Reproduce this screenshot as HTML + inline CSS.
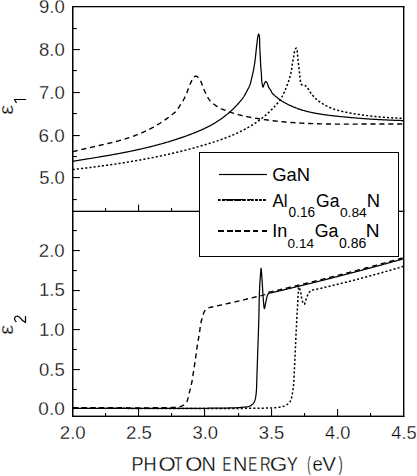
<!DOCTYPE html>
<html><head><meta charset="utf-8"><style>
html,body{margin:0;padding:0;background:#fff;}
svg{display:block;}
text{font-family:"Liberation Sans",sans-serif;fill:#000;font-kerning:none;}
text.t{stroke:#fff;stroke-width:0.3px;}
</style></head><body>
<svg width="417" height="476" viewBox="0 0 417 476">
<rect x="0" y="0" width="417" height="476" fill="#fff"/>
<path d="M72.70,161.31 L73.46,161.19 L74.22,161.07 L74.98,160.95 L75.74,160.83 L76.50,160.70 L77.26,160.58 L78.02,160.46 L78.78,160.34 L79.54,160.22 L80.30,160.09 L81.06,159.97 L81.82,159.85 L82.58,159.73 L83.34,159.60 L84.10,159.48 L84.86,159.36 L85.62,159.24 L86.38,159.11 L87.15,158.99 L87.91,158.87 L88.67,158.75 L89.43,158.62 L90.19,158.50 L90.95,158.37 L91.71,158.25 L92.47,158.13 L93.23,158.00 L93.99,157.88 L94.75,157.75 L95.51,157.63 L96.27,157.50 L97.03,157.37 L97.79,157.25 L98.55,157.12 L99.31,156.99 L100.07,156.87 L100.83,156.74 L101.59,156.61 L102.35,156.48 L103.11,156.35 L103.87,156.22 L104.63,156.09 L105.39,155.96 L106.15,155.83 L106.91,155.69 L107.67,155.56 L108.43,155.43 L109.19,155.29 L109.95,155.16 L110.71,155.03 L111.47,154.89 L112.23,154.75 L112.99,154.62 L113.75,154.48 L114.51,154.34 L115.28,154.20 L116.04,154.06 L116.80,153.92 L117.56,153.78 L118.32,153.64 L119.08,153.49 L119.84,153.35 L120.60,153.21 L121.36,153.06 L122.12,152.91 L122.88,152.77 L123.64,152.62 L124.40,152.47 L125.16,152.32 L125.92,152.17 L126.68,152.02 L127.44,151.86 L128.20,151.71 L128.96,151.56 L129.72,151.40 L130.48,151.24 L131.24,151.09 L132.00,150.93 L132.76,150.77 L133.52,150.61 L134.28,150.45 L135.04,150.28 L135.80,150.12 L136.56,149.95 L137.32,149.79 L138.08,149.62 L138.84,149.45 L139.60,149.28 L140.36,149.11 L141.12,148.94 L141.88,148.76 L142.64,148.59 L143.41,148.41 L144.17,148.24 L144.93,148.06 L145.69,147.88 L146.45,147.70 L147.21,147.51 L147.97,147.33 L148.73,147.14 L149.49,146.96 L150.25,146.77 L151.01,146.58 L151.77,146.39 L152.53,146.20 L153.29,146.00 L154.05,145.81 L154.81,145.61 L155.57,145.41 L156.33,145.21 L157.09,145.01 L157.85,144.81 L158.61,144.60 L159.37,144.39 L160.13,144.19 L160.89,143.98 L161.65,143.77 L162.41,143.55 L163.17,143.34 L163.93,143.12 L164.69,142.91 L165.45,142.69 L166.21,142.46 L166.97,142.24 L167.73,142.02 L168.49,141.79 L169.25,141.56 L170.01,141.33 L170.77,141.10 L171.54,140.87 L172.30,140.63 L173.06,140.39 L173.82,140.15 L174.58,139.91 L175.34,139.67 L176.10,139.42 L176.86,139.18 L177.62,138.93 L178.38,138.68 L179.14,138.42 L179.90,138.17 L180.66,137.91 L181.42,137.65 L182.18,137.39 L182.94,137.12 L183.70,136.86 L184.46,136.59 L185.22,136.32 L185.98,136.04 L186.74,135.77 L187.50,135.49 L188.26,135.21 L189.02,134.92 L189.78,134.64 L190.54,134.35 L191.30,134.06 L192.06,133.77 L192.82,133.47 L193.58,133.17 L194.34,132.87 L195.10,132.56 L195.86,132.26 L196.62,131.95 L197.38,131.63 L198.15,131.32 L198.91,131.00 L199.67,130.67 L200.42,130.35 L201.19,130.01 L201.95,129.68 L202.71,129.33 L203.47,128.99 L204.23,128.63 L204.99,128.27 L205.75,127.91 L206.51,127.54 L207.27,127.16 L208.03,126.78 L208.79,126.38 L209.55,125.99 L210.31,125.58 L211.07,125.17 L211.83,124.74 L212.59,124.32 L213.35,123.88 L214.11,123.43 L214.87,122.98 L215.63,122.52 L216.39,122.04 L217.16,121.56 L217.91,121.07 L218.67,120.57 L219.44,120.06 L220.20,119.54 L220.96,119.01 L221.71,118.48 L222.48,117.92 L223.24,117.36 L224.00,116.79 L224.75,116.21 L225.52,115.61 L226.28,115.01 L227.04,114.39 L227.79,113.77 L228.41,113.25 L229.02,112.73 L229.63,112.20 L230.23,111.67 L230.84,111.13 L231.45,110.57 L232.06,110.01 L232.67,109.44 L233.27,108.86 L233.88,108.27 L234.49,107.66 L235.10,107.04 L235.71,106.42 L236.32,105.78 L236.92,105.13 L237.53,104.46 L238.14,103.78 L238.75,103.09 L239.36,102.38 L239.96,101.67 L240.59,100.91 L241.22,100.14 L241.85,99.36 L242.45,98.58 L243.00,97.82 L243.54,97.02 L244.03,96.25 L244.50,95.45 L245.00,94.60 L245.42,93.86 L245.86,93.09 L246.30,92.28 L246.74,91.46 L247.18,90.63 L247.60,89.80 L248.02,88.96 L248.45,88.11 L248.87,87.26 L249.27,86.40 L249.65,85.51 L250.00,84.60 L250.29,83.74 L250.55,82.86 L250.79,81.97 L251.02,81.06 L251.24,80.12 L251.47,79.17 L251.70,78.20 L251.92,77.30 L252.14,76.39 L252.36,75.45 L252.57,74.50 L252.79,73.53 L253.00,72.55 L253.21,71.57 L253.41,70.59 L253.60,69.60 L253.77,68.67 L253.94,67.75 L254.09,66.83 L254.25,65.90 L254.39,64.96 L254.54,64.01 L254.68,63.05 L254.82,62.06 L254.96,61.05 L255.10,60.00 L255.22,59.11 L255.33,58.17 L255.44,57.20 L255.55,56.20 L255.66,55.19 L255.77,54.15 L255.88,53.12 L255.99,52.08 L256.09,51.05 L256.20,50.03 L256.30,49.03 L256.40,48.07 L256.50,47.13 L256.60,46.24 L256.70,45.40 L256.83,44.31 L256.95,43.26 L257.07,42.25 L257.19,41.27 L257.31,40.34 L257.43,39.45 L257.56,38.60 L257.70,37.80 L257.91,36.61 L258.13,35.41 L258.36,34.48 L258.60,34.10 L258.88,34.44 L259.16,35.28 L259.40,36.30 L259.50,36.95 L259.57,37.70 L259.61,38.53 L259.63,39.43 L259.64,40.39 L259.65,41.38 L259.65,42.39 L259.65,43.41 L259.67,44.42 L259.70,45.40 L259.74,46.32 L259.78,47.26 L259.83,48.22 L259.88,49.19 L259.93,50.18 L259.99,51.17 L260.04,52.16 L260.09,53.15 L260.15,54.13 L260.20,55.10 L260.25,56.06 L260.30,57.00 L260.35,57.94 L260.39,58.89 L260.43,59.83 L260.48,60.77 L260.52,61.70 L260.56,62.62 L260.60,63.53 L260.65,64.42 L260.70,65.30 L260.75,66.16 L260.80,67.00 L260.87,67.94 L260.95,68.84 L261.03,69.73 L261.11,70.59 L261.19,71.44 L261.27,72.29 L261.34,73.14 L261.40,74.00 L261.45,74.97 L261.49,75.94 L261.52,76.92 L261.54,77.88 L261.58,78.82 L261.63,79.73 L261.70,80.60 L261.81,81.54 L261.94,82.46 L262.09,83.33 L262.24,84.15 L262.40,84.90 L262.58,85.85 L262.77,86.71 L263.00,87.10 L263.27,86.73 L263.58,85.83 L263.93,84.74 L264.30,83.80 L264.81,82.78 L265.36,81.83 L265.90,81.40 L266.39,81.72 L266.87,82.47 L267.30,83.30 L267.61,84.07 L267.86,84.93 L268.11,85.80 L268.40,86.60 L268.81,87.39 L269.26,88.12 L269.70,88.80 L270.25,89.59 L270.80,90.40 L271.13,91.03 L271.45,91.73 L271.80,92.44 L272.20,93.10 L272.69,93.69 L273.23,94.24 L273.81,94.77 L274.40,95.30 L275.05,95.86 L275.73,96.42 L276.42,96.97 L277.10,97.50 L277.72,97.99 L278.34,98.46 L278.96,98.93 L279.60,99.40 L280.30,99.91 L281.02,100.42 L281.76,100.93 L282.50,101.41 L283.25,101.87 L284.00,102.30 L284.76,102.72 L285.53,103.14 L286.28,103.54 L287.04,103.94 L287.80,104.32 L288.56,104.70 L289.31,105.07 L290.07,105.42 L290.82,105.77 L291.58,106.11 L292.34,106.44 L293.09,106.77 L293.85,107.08 L294.61,107.39 L295.36,107.69 L296.12,107.98 L296.88,108.26 L297.64,108.54 L298.39,108.81 L299.15,109.07 L299.91,109.32 L300.67,109.57 L301.42,109.81 L302.18,110.05 L302.93,110.28 L303.69,110.50 L304.45,110.71 L305.20,110.93 L305.96,111.13 L306.72,111.33 L307.48,111.52 L308.23,111.71 L308.99,111.89 L309.75,112.07 L310.50,112.24 L311.26,112.41 L312.02,112.58 L312.77,112.73 L313.53,112.89 L314.29,113.04 L315.05,113.18 L315.80,113.33 L316.56,113.46 L317.32,113.60 L318.07,113.73 L318.83,113.85 L319.59,113.98 L320.34,114.10 L321.10,114.22 L321.86,114.33 L322.61,114.44 L323.37,114.55 L324.13,114.66 L324.88,114.76 L325.64,114.86 L326.40,114.96 L327.16,115.06 L327.91,115.15 L328.67,115.25 L329.43,115.34 L330.18,115.43 L330.94,115.52 L331.70,115.61 L332.45,115.70 L333.21,115.78 L333.97,115.87 L334.72,115.95 L335.48,116.03 L336.24,116.12 L337.00,116.20 L337.75,116.28 L338.51,116.36 L339.27,116.44 L340.02,116.52 L340.78,116.60 L341.54,116.68 L342.29,116.75 L343.05,116.83 L343.81,116.90 L344.56,116.98 L345.32,117.05 L346.08,117.13 L346.83,117.20 L347.59,117.27 L348.35,117.34 L349.11,117.41 L349.86,117.48 L350.62,117.55 L351.38,117.61 L352.13,117.68 L352.89,117.75 L353.65,117.81 L354.40,117.88 L355.16,117.94 L355.92,118.00 L356.67,118.07 L357.43,118.13 L358.19,118.19 L358.94,118.25 L359.70,118.31 L360.46,118.37 L361.22,118.43 L361.97,118.48 L362.73,118.54 L363.49,118.60 L364.24,118.65 L365.00,118.71 L365.76,118.76 L366.51,118.81 L367.27,118.86 L368.03,118.92 L368.78,118.97 L369.54,119.02 L370.30,119.07 L371.05,119.12 L371.81,119.16 L372.57,119.21 L373.33,119.26 L374.08,119.30 L374.84,119.35 L375.60,119.39 L376.35,119.44 L377.11,119.48 L377.87,119.52 L378.62,119.56 L379.38,119.61 L380.14,119.65 L380.89,119.69 L381.65,119.73 L382.41,119.76 L383.16,119.80 L383.92,119.84 L384.68,119.88 L385.44,119.91 L386.19,119.95 L386.95,119.98 L387.71,120.02 L388.46,120.05 L389.22,120.08 L389.98,120.11 L390.73,120.14 L391.49,120.17 L392.25,120.20 L393.00,120.23 L393.76,120.26 L394.52,120.29 L395.27,120.32 L396.03,120.34 L396.79,120.37 L397.54,120.40 L398.30,120.42 L399.06,120.45 L399.82,120.47 L400.57,120.49 L401.33,120.51 L402.09,120.54 L402.84,120.56 L403.60,120.58" stroke="#000" stroke-width="1.25" fill="none" stroke-linejoin="round"/>
<path d="M72.70,169.57 L73.45,169.49 L74.21,169.40 L74.96,169.31 L75.71,169.23 L76.46,169.14 L77.22,169.05 L77.97,168.97 L78.72,168.88 L79.48,168.79 L80.23,168.70 L80.98,168.61 L81.73,168.52 L82.49,168.43 L83.24,168.34 L83.99,168.25 L84.75,168.16 L85.50,168.07 L86.25,167.98 L87.01,167.89 L87.76,167.79 L88.51,167.70 L89.26,167.61 L90.02,167.51 L90.77,167.42 L91.52,167.32 L92.28,167.23 L93.03,167.13 L93.78,167.03 L94.53,166.94 L95.29,166.84 L96.04,166.74 L96.79,166.64 L97.55,166.54 L98.30,166.44 L99.05,166.34 L99.80,166.24 L100.56,166.14 L101.31,166.04 L102.06,165.94 L102.82,165.84 L103.57,165.73 L104.32,165.63 L105.07,165.53 L105.83,165.42 L106.58,165.32 L107.33,165.21 L108.09,165.10 L108.84,165.00 L109.59,164.89 L110.35,164.78 L111.10,164.67 L111.85,164.56 L112.60,164.45 L113.36,164.34 L114.11,164.23 L114.86,164.12 L115.62,164.01 L116.37,163.89 L117.12,163.78 L117.87,163.67 L118.63,163.55 L119.38,163.43 L120.13,163.32 L120.89,163.20 L121.64,163.08 L122.39,162.97 L123.14,162.85 L123.90,162.73 L124.65,162.61 L125.40,162.49 L126.16,162.36 L126.91,162.24 L127.66,162.12 L128.41,161.99 L129.17,161.87 L129.92,161.74 L130.67,161.62 L131.43,161.49 L132.18,161.36 L132.93,161.24 L133.68,161.11 L134.44,160.98 L135.19,160.85 L135.94,160.72 L136.70,160.58 L137.45,160.45 L138.20,160.32 L138.96,160.18 L139.71,160.05 L140.46,159.91 L141.21,159.77 L141.97,159.64 L142.72,159.50 L143.47,159.36 L144.23,159.22 L144.98,159.08 L145.73,158.94 L146.48,158.79 L147.24,158.65 L147.99,158.51 L148.74,158.36 L149.50,158.22 L150.25,158.07 L151.00,157.92 L151.75,157.77 L152.51,157.62 L153.26,157.47 L154.01,157.32 L154.77,157.17 L155.52,157.02 L156.27,156.86 L157.02,156.71 L157.78,156.55 L158.53,156.40 L159.28,156.24 L160.04,156.08 L160.79,155.92 L161.54,155.76 L162.30,155.60 L163.05,155.44 L163.80,155.28 L164.55,155.11 L165.31,154.95 L166.06,154.78 L166.81,154.61 L167.57,154.45 L168.32,154.28 L169.07,154.11 L169.82,153.94 L170.58,153.76 L171.33,153.59 L172.08,153.42 L172.84,153.24 L173.59,153.07 L174.34,152.89 L175.09,152.71 L175.85,152.53 L176.60,152.35 L177.35,152.17 L178.11,151.99 L178.86,151.81 L179.61,151.62 L180.36,151.44 L181.12,151.25 L181.87,151.06 L182.62,150.87 L183.38,150.68 L184.13,150.49 L184.88,150.30 L185.64,150.11 L186.39,149.91 L187.14,149.72 L187.89,149.52 L188.65,149.32 L189.40,149.13 L190.15,148.93 L190.91,148.73 L191.66,148.52 L192.41,148.32 L193.16,148.12 L193.92,147.91 L194.67,147.70 L195.42,147.50 L196.18,147.29 L196.93,147.08 L197.68,146.87 L198.43,146.65 L199.19,146.44 L199.94,146.22 L200.69,146.01 L201.45,145.79 L202.20,145.57 L202.95,145.35 L203.70,145.13 L204.46,144.91 L205.21,144.69 L205.96,144.46 L206.72,144.24 L207.47,144.01 L208.22,143.78 L208.97,143.55 L209.73,143.32 L210.48,143.09 L211.23,142.85 L211.99,142.61 L212.74,142.38 L213.49,142.13 L214.24,141.89 L215.00,141.65 L215.75,141.40 L216.50,141.15 L217.26,140.90 L218.01,140.65 L218.76,140.39 L219.52,140.13 L220.27,139.87 L221.02,139.60 L221.77,139.33 L222.53,139.06 L223.28,138.79 L224.03,138.51 L224.79,138.23 L225.54,137.95 L226.29,137.66 L227.05,137.37 L227.80,137.08 L228.55,136.78 L229.30,136.48 L230.06,136.17 L230.81,135.86 L231.56,135.55 L232.31,135.23 L233.07,134.91 L233.82,134.58 L234.57,134.25 L235.33,133.92 L236.08,133.58 L236.83,133.23 L237.59,132.89 L238.34,132.53 L239.09,132.17 L239.85,131.81 L240.60,131.44 L241.35,131.07 L242.10,130.69 L242.86,130.30 L243.61,129.91 L244.36,129.52 L245.12,129.12 L245.87,128.71 L246.62,128.30 L247.37,127.88 L248.13,127.46 L248.88,127.03 L249.63,126.59 L250.38,126.15 L251.14,125.69 L251.89,125.24 L252.65,124.77 L253.40,124.30 L254.15,123.81 L254.91,123.32 L255.66,122.82 L256.41,122.32 L257.16,121.80 L257.92,121.27 L258.67,120.73 L259.42,120.18 L260.18,119.62 L260.93,119.05 L261.68,118.47 L262.43,117.89 L263.19,117.28 L263.94,116.66 L264.69,116.04 L265.44,115.40 L266.05,114.88 L266.65,114.34 L267.26,113.81 L267.86,113.26 L268.45,112.71 L269.06,112.14 L269.67,111.57 L270.27,110.99 L270.87,110.40 L271.47,109.80 L272.07,109.19 L272.68,108.56 L273.28,107.93 L273.88,107.30 L274.48,106.65 L275.08,105.98 L275.69,105.31 L276.29,104.63 L276.89,103.94 L277.49,103.24 L278.11,102.53 L278.73,101.82 L279.34,101.10 L279.94,100.35 L280.50,99.56 L280.96,98.83 L281.40,98.06 L281.82,97.27 L282.23,96.47 L282.62,95.67 L283.00,94.90 L283.41,94.07 L283.80,93.25 L284.18,92.43 L284.54,91.62 L284.90,90.80 L285.24,89.98 L285.56,89.16 L285.87,88.34 L286.18,87.52 L286.50,86.70 L286.82,85.88 L287.15,85.06 L287.48,84.24 L287.80,83.42 L288.10,82.60 L288.38,81.78 L288.64,80.96 L288.90,80.13 L289.15,79.31 L289.40,78.50 L289.71,77.54 L290.03,76.60 L290.33,75.66 L290.60,74.70 L290.79,73.91 L290.96,73.12 L291.12,72.32 L291.26,71.52 L291.40,70.70 L291.53,69.83 L291.66,68.94 L291.77,68.05 L291.88,67.16 L292.00,66.30 L292.14,65.33 L292.29,64.39 L292.44,63.45 L292.60,62.50 L292.75,61.71 L292.91,60.92 L293.08,60.12 L293.25,59.32 L293.40,58.50 L293.55,57.61 L293.69,56.69 L293.82,55.77 L293.96,54.87 L294.10,54.00 L294.26,53.07 L294.42,52.15 L294.60,51.28 L294.80,50.50 L295.03,49.77 L295.29,49.11 L295.60,48.60 L296.01,48.22 L296.40,48.10 L296.76,48.83 L297.00,50.00 L297.16,50.84 L297.29,51.74 L297.40,52.70 L297.47,53.46 L297.53,54.28 L297.58,55.12 L297.64,55.97 L297.70,56.80 L297.77,57.62 L297.85,58.44 L297.93,59.26 L298.01,60.08 L298.10,60.90 L298.19,61.72 L298.29,62.54 L298.40,63.36 L298.50,64.18 L298.60,65.00 L298.70,65.82 L298.80,66.65 L298.91,67.47 L299.01,68.29 L299.10,69.10 L299.20,70.05 L299.30,70.99 L299.40,71.94 L299.50,72.90 L299.60,73.75 L299.70,74.61 L299.80,75.49 L299.90,76.35 L300.00,77.20 L300.10,78.18 L300.18,79.16 L300.28,80.11 L300.40,81.00 L300.56,81.94 L300.74,82.83 L301.00,83.60 L301.38,84.36 L301.90,84.90 L302.66,85.00 L303.50,85.00 L304.31,85.18 L305.10,85.50 L305.69,85.91 L306.26,86.43 L306.80,87.00 L307.31,87.61 L307.79,88.26 L308.30,89.00 L308.77,89.72 L309.26,90.54 L309.77,91.40 L310.29,92.24 L310.80,93.00 L311.34,93.72 L311.87,94.38 L312.42,95.03 L313.00,95.70 L313.56,96.34 L314.15,97.00 L314.76,97.67 L315.38,98.31 L316.00,98.91 L316.74,99.55 L317.49,100.15 L318.26,100.72 L319.02,101.28 L319.77,101.82 L320.52,102.34 L321.28,102.85 L322.04,103.35 L322.79,103.82 L323.54,104.28 L324.30,104.72 L325.06,105.15 L325.81,105.55 L326.57,105.95 L327.32,106.33 L328.08,106.70 L328.83,107.05 L329.59,107.39 L330.34,107.71 L331.10,108.03 L331.86,108.33 L332.61,108.62 L333.37,108.90 L334.12,109.17 L334.88,109.43 L335.63,109.67 L336.39,109.91 L337.14,110.14 L337.90,110.36 L338.65,110.57 L339.41,110.78 L340.17,110.97 L340.92,111.16 L341.67,111.34 L342.43,111.52 L343.19,111.69 L343.94,111.85 L344.70,112.01 L345.45,112.17 L346.21,112.32 L346.96,112.46 L347.72,112.61 L348.47,112.75 L349.23,112.88 L349.98,113.02 L350.74,113.15 L351.49,113.28 L352.25,113.41 L353.00,113.54 L353.76,113.67 L354.51,113.79 L355.27,113.91 L356.02,114.03 L356.78,114.15 L357.53,114.27 L358.29,114.38 L359.04,114.50 L359.80,114.61 L360.55,114.72 L361.31,114.83 L362.07,114.93 L362.82,115.04 L363.58,115.14 L364.33,115.24 L365.09,115.34 L365.84,115.44 L366.60,115.54 L367.35,115.63 L368.11,115.72 L368.86,115.82 L369.62,115.91 L370.37,115.99 L371.13,116.08 L371.88,116.17 L372.64,116.25 L373.39,116.33 L374.15,116.41 L374.90,116.49 L375.66,116.57 L376.41,116.64 L377.17,116.71 L377.92,116.79 L378.68,116.86 L379.43,116.93 L380.19,116.99 L380.94,117.06 L381.70,117.12 L382.46,117.19 L383.21,117.25 L383.97,117.31 L384.72,117.37 L385.48,117.42 L386.23,117.48 L386.99,117.53 L387.74,117.59 L388.50,117.64 L389.25,117.69 L390.01,117.73 L390.76,117.78 L391.52,117.83 L392.27,117.87 L393.03,117.91 L393.78,117.95 L394.54,117.99 L395.29,118.03 L396.05,118.07 L396.80,118.10 L397.56,118.14 L398.31,118.17 L399.07,118.20 L399.82,118.23 L400.58,118.26 L401.33,118.28 L402.09,118.31 L402.84,118.33 L403.60,118.36" stroke="#000" stroke-width="1.5" fill="none" stroke-linejoin="round" stroke-dasharray="2.1 2.1"/>
<path d="M72.70,151.80 L73.46,151.59 L74.22,151.39 L74.99,151.18 L75.75,150.98 L76.51,150.78 L77.27,150.58 L78.04,150.39 L78.80,150.19 L79.56,150.00 L80.32,149.81 L81.09,149.63 L81.85,149.44 L82.61,149.26 L83.37,149.07 L84.14,148.89 L84.90,148.71 L85.66,148.54 L86.42,148.36 L87.19,148.18 L87.95,148.01 L88.71,147.83 L89.47,147.66 L90.24,147.49 L91.00,147.32 L91.76,147.15 L92.52,146.98 L93.29,146.81 L94.05,146.64 L94.81,146.47 L95.57,146.30 L96.34,146.13 L97.10,145.96 L97.86,145.79 L98.63,145.62 L99.39,145.45 L100.15,145.28 L100.91,145.11 L101.68,144.94 L102.44,144.77 L103.20,144.60 L103.96,144.42 L104.73,144.25 L105.49,144.07 L106.25,143.90 L107.01,143.72 L107.78,143.54 L108.54,143.36 L109.30,143.18 L110.06,143.00 L110.83,142.81 L111.59,142.62 L112.35,142.44 L113.11,142.25 L113.88,142.05 L114.64,141.86 L115.40,141.66 L116.16,141.46 L116.93,141.26 L117.69,141.06 L118.45,140.85 L119.21,140.64 L119.98,140.43 L120.74,140.22 L121.50,140.00 L122.26,139.78 L123.03,139.56 L123.79,139.33 L124.55,139.10 L125.31,138.87 L126.08,138.63 L126.84,138.39 L127.60,138.15 L128.36,137.90 L129.13,137.65 L129.89,137.39 L130.65,137.14 L131.41,136.87 L132.18,136.60 L132.94,136.33 L133.70,136.06 L134.46,135.78 L135.23,135.49 L135.99,135.20 L136.75,134.91 L137.51,134.61 L138.28,134.31 L139.04,134.00 L139.80,133.69 L140.56,133.37 L141.33,133.04 L142.09,132.72 L142.85,132.38 L143.61,132.04 L144.38,131.70 L145.14,131.35 L145.90,130.99 L146.66,130.63 L147.43,130.26 L148.19,129.88 L148.95,129.50 L149.71,129.11 L150.48,128.72 L151.24,128.32 L152.00,127.92 L152.76,127.50 L153.53,127.08 L154.29,126.66 L155.05,126.23 L155.81,125.79 L156.58,125.34 L157.34,124.89 L158.10,124.43 L158.86,123.96 L159.63,123.48 L160.39,123.00 L161.15,122.51 L161.92,122.01 L162.68,121.50 L163.44,120.99 L164.20,120.47 L164.97,119.94 L165.73,119.40 L166.49,118.86 L167.25,118.31 L168.02,117.74 L168.78,117.17 L169.54,116.59 L170.30,116.01 L171.07,115.41 L171.83,114.80 L172.59,114.19 L173.35,113.57 L174.12,112.96 L174.90,112.36 L175.67,111.72 L176.40,110.98 L176.95,110.29 L177.48,109.52 L177.98,108.70 L178.49,107.85 L178.99,107.01 L179.50,106.20 L180.01,105.44 L180.53,104.71 L181.05,103.98 L181.57,103.24 L182.09,102.45 L182.60,101.60 L183.03,100.83 L183.46,100.02 L183.90,99.17 L184.34,98.30 L184.77,97.40 L185.19,96.50 L185.61,95.59 L186.01,94.69 L186.40,93.80 L186.76,92.94 L187.11,92.06 L187.45,91.18 L187.77,90.30 L188.09,89.42 L188.41,88.55 L188.73,87.69 L189.06,86.84 L189.40,86.00 L189.77,85.12 L190.14,84.22 L190.52,83.32 L190.90,82.44 L191.28,81.59 L191.66,80.79 L192.04,80.05 L192.40,79.40 L193.00,78.44 L193.59,77.64 L194.20,77.00 L194.93,76.40 L195.70,76.10 L196.59,76.27 L197.50,76.80 L198.05,77.28 L198.61,77.89 L199.17,78.61 L199.70,79.39 L200.20,80.20 L200.59,80.93 L200.95,81.70 L201.28,82.52 L201.60,83.37 L201.92,84.24 L202.25,85.12 L202.60,86.00 L202.95,86.86 L203.30,87.75 L203.65,88.65 L204.01,89.57 L204.38,90.48 L204.77,91.40 L205.17,92.31 L205.60,93.20 L206.01,94.02 L206.42,94.85 L206.84,95.69 L207.28,96.52 L207.74,97.34 L208.21,98.15 L208.71,98.93 L209.24,99.68 L209.80,100.40 L210.46,101.15 L211.17,101.87 L211.91,102.56 L212.68,103.22 L213.46,103.85 L214.25,104.46 L215.03,105.04 L215.80,105.60 L216.58,106.15 L217.38,106.67 L218.19,107.17 L218.99,107.64 L219.77,108.07 L220.51,108.46 L221.20,108.80 L222.19,109.21 L223.09,109.51 L224.00,109.83 L224.75,110.13 L225.51,110.43 L226.28,110.74 L227.04,111.04 L227.80,111.33 L228.56,111.61 L229.33,111.88 L230.09,112.14 L230.85,112.40 L231.61,112.66 L232.37,112.90 L233.13,113.14 L233.89,113.38 L234.65,113.61 L235.41,113.83 L236.18,114.05 L236.94,114.26 L237.70,114.47 L238.46,114.67 L239.22,114.87 L239.98,115.07 L240.74,115.26 L241.50,115.44 L242.26,115.62 L243.02,115.80 L243.79,115.97 L244.55,116.14 L245.31,116.30 L246.07,116.46 L246.83,116.62 L247.59,116.78 L248.35,116.93 L249.11,117.08 L249.87,117.22 L250.64,117.37 L251.40,117.51 L252.16,117.65 L252.92,117.78 L253.68,117.92 L254.44,118.05 L255.20,118.18 L255.96,118.31 L256.72,118.43 L257.48,118.56 L258.25,118.68 L259.01,118.80 L259.77,118.92 L260.53,119.04 L261.29,119.15 L262.05,119.27 L262.81,119.38 L263.57,119.49 L264.33,119.60 L265.09,119.71 L265.86,119.81 L266.62,119.92 L267.38,120.02 L268.14,120.12 L268.90,120.22 L269.66,120.32 L270.42,120.41 L271.18,120.51 L271.94,120.60 L272.71,120.69 L273.47,120.78 L274.23,120.87 L274.99,120.95 L275.75,121.04 L276.51,121.12 L277.27,121.20 L278.03,121.29 L278.79,121.36 L279.55,121.44 L280.32,121.52 L281.08,121.59 L281.84,121.67 L282.60,121.74 L283.36,121.81 L284.12,121.88 L284.88,121.95 L285.64,122.01 L286.40,122.08 L287.16,122.14 L287.93,122.21 L288.69,122.27 L289.45,122.33 L290.21,122.39 L290.97,122.45 L291.73,122.50 L292.49,122.56 L293.25,122.61 L294.01,122.66 L294.77,122.72 L295.54,122.77 L296.30,122.82 L297.06,122.86 L297.82,122.91 L298.58,122.96 L299.34,123.00 L300.10,123.05 L300.86,123.09 L301.62,123.13 L302.38,123.17 L303.15,123.21 L303.91,123.25 L304.67,123.28 L305.43,123.32 L306.19,123.36 L306.95,123.39 L307.71,123.42 L308.47,123.46 L309.23,123.49 L309.99,123.52 L310.76,123.55 L311.52,123.58 L312.28,123.60 L313.04,123.63 L313.80,123.66 L314.56,123.68 L315.32,123.71 L316.08,123.73 L316.84,123.75 L317.61,123.77 L318.37,123.79 L319.13,123.81 L319.89,123.83 L320.65,123.85 L321.41,123.87 L322.17,123.89 L322.93,123.90 L323.69,123.92 L324.45,123.93 L325.22,123.95 L325.98,123.96 L326.74,123.97 L327.50,123.99 L328.26,124.00 L329.02,124.01 L329.78,124.02 L330.54,124.03 L331.30,124.04 L332.06,124.05 L332.83,124.05 L333.59,124.06 L334.35,124.07 L335.11,124.08 L335.87,124.08 L336.63,124.09 L337.39,124.09 L338.15,124.10 L338.91,124.10 L339.67,124.10 L340.44,124.11 L341.20,124.11 L341.96,124.11 L342.72,124.11 L343.48,124.11 L344.24,124.11 L345.00,124.11 L345.76,124.11 L346.52,124.11 L347.28,124.11 L348.05,124.11 L348.81,124.11 L349.57,124.11 L350.33,124.11 L351.09,124.11 L351.85,124.10 L352.61,124.10 L353.37,124.10 L354.13,124.10 L354.89,124.09 L355.66,124.09 L356.42,124.09 L357.18,124.08 L357.94,124.08 L358.70,124.07 L359.46,124.07 L360.22,124.06 L360.98,124.06 L361.74,124.06 L362.51,124.05 L363.27,124.05 L364.03,124.04 L364.79,124.04 L365.55,124.03 L366.31,124.03 L367.07,124.02 L367.83,124.02 L368.59,124.01 L369.35,124.01 L370.12,124.00 L370.88,124.00 L371.64,123.99 L372.40,123.99 L373.16,123.98 L373.92,123.98 L374.68,123.97 L375.44,123.97 L376.20,123.97 L376.96,123.96 L377.73,123.96 L378.49,123.95 L379.25,123.95 L380.01,123.95 L380.77,123.94 L381.53,123.94 L382.29,123.94 L383.05,123.94 L383.81,123.93 L384.57,123.93 L385.34,123.93 L386.10,123.93 L386.86,123.93 L387.62,123.93 L388.38,123.93 L389.14,123.93 L389.90,123.93 L390.66,123.93 L391.42,123.93 L392.18,123.93 L392.95,123.93 L393.71,123.94 L394.47,123.94 L395.23,123.94 L395.99,123.95 L396.75,123.95 L397.51,123.96 L398.27,123.96 L399.03,123.97 L399.79,123.97 L400.56,123.98 L401.32,123.99 L402.08,124.00 L402.84,124.00 L403.60,124.01" stroke="#000" stroke-width="1.4" fill="none" stroke-linejoin="round" stroke-dasharray="5.1 3.8"/>
<path d="M72.70,408.30 L73.70,408.30 L74.70,408.30 L75.70,408.30 L76.72,408.30 L77.73,408.30 L78.75,408.30 L79.77,408.30 L80.80,408.30 L81.83,408.30 L82.87,408.30 L83.91,408.30 L84.95,408.30 L86.00,408.31 L87.05,408.31 L88.10,408.31 L89.16,408.31 L90.21,408.31 L91.28,408.31 L92.34,408.31 L93.41,408.31 L94.48,408.31 L95.55,408.32 L96.63,408.32 L97.70,408.32 L98.78,408.32 L99.86,408.32 L100.95,408.32 L102.03,408.32 L103.12,408.32 L104.21,408.33 L105.30,408.33 L106.39,408.33 L107.48,408.33 L108.57,408.33 L109.67,408.33 L110.76,408.34 L111.86,408.34 L112.95,408.34 L114.05,408.34 L115.15,408.34 L116.25,408.34 L117.34,408.35 L118.44,408.35 L119.54,408.35 L120.64,408.35 L121.74,408.35 L122.83,408.35 L123.93,408.35 L125.02,408.36 L126.12,408.36 L127.21,408.36 L128.31,408.36 L129.40,408.36 L130.49,408.36 L131.58,408.37 L132.67,408.37 L133.76,408.37 L134.84,408.37 L135.93,408.37 L137.01,408.37 L138.09,408.37 L139.17,408.38 L140.24,408.38 L141.32,408.38 L142.39,408.38 L143.45,408.38 L144.52,408.38 L145.58,408.38 L146.64,408.38 L147.70,408.38 L148.75,408.39 L149.81,408.39 L150.85,408.39 L151.90,408.39 L152.94,408.39 L153.97,408.39 L155.01,408.39 L156.04,408.39 L157.06,408.39 L158.08,408.39 L159.10,408.39 L160.11,408.39 L161.12,408.39 L162.12,408.39 L163.12,408.39 L164.11,408.39 L165.10,408.39 L166.09,408.39 L167.06,408.39 L168.04,408.39 L169.01,408.39 L169.97,408.39 L170.93,408.39 L171.88,408.39 L172.82,408.39 L173.76,408.39 L174.69,408.39 L175.62,408.39 L176.54,408.38 L177.46,408.38 L178.36,408.38 L179.27,408.38 L180.16,408.38 L181.05,408.38 L181.93,408.38 L182.80,408.37 L183.67,408.37 L184.53,408.37 L185.38,408.37 L186.22,408.36 L187.06,408.36 L187.89,408.36 L188.71,408.36 L189.52,408.35 L190.33,408.35 L191.12,408.35 L191.91,408.34 L192.69,408.34 L193.46,408.34 L194.23,408.33 L194.98,408.33 L195.72,408.33 L196.46,408.32 L197.19,408.32 L197.90,408.31 L198.61,408.31 L199.31,408.30 L200.00,408.30 L201.27,408.29 L202.52,408.28 L203.77,408.27 L204.99,408.26 L206.20,408.26 L207.40,408.25 L208.58,408.24 L209.75,408.23 L210.90,408.22 L212.04,408.21 L213.16,408.20 L214.26,408.19 L215.35,408.18 L216.41,408.17 L217.47,408.16 L218.50,408.15 L219.51,408.14 L220.51,408.12 L221.49,408.11 L222.45,408.10 L223.39,408.08 L224.31,408.07 L225.21,408.06 L226.09,408.04 L226.95,408.02 L227.79,408.01 L228.61,407.99 L229.41,407.97 L230.19,407.95 L230.94,407.94 L231.68,407.91 L232.39,407.89 L233.07,407.87 L233.74,407.85 L234.38,407.82 L235.00,407.80 L236.17,407.75 L237.20,407.69 L238.13,407.64 L238.99,407.58 L239.80,407.52 L240.58,407.45 L241.38,407.38 L242.20,407.30 L243.22,407.21 L244.24,407.13 L245.24,407.04 L246.21,406.93 L247.13,406.79 L248.00,406.60 L248.97,406.34 L249.87,406.04 L250.71,405.67 L251.50,405.20 L252.25,404.60 L252.94,403.91 L253.56,403.13 L254.10,402.30 L254.48,401.52 L254.80,400.69 L255.06,399.81 L255.29,398.91 L255.50,398.00 L255.67,397.20 L255.80,396.38 L255.92,395.55 L256.02,394.71 L256.11,393.86 L256.20,393.00 L256.29,392.07 L256.37,391.12 L256.44,390.17 L256.50,389.20 L256.55,388.21 L256.60,387.20 L256.64,386.36 L256.67,385.52 L256.69,384.67 L256.71,383.81 L256.73,382.93 L256.75,382.00 L256.77,381.03 L256.80,380.00 L256.82,379.21 L256.85,378.39 L256.88,377.52 L256.91,376.63 L256.94,375.71 L256.97,374.77 L257.00,373.81 L257.03,372.84 L257.07,371.86 L257.10,370.86 L257.14,369.87 L257.17,368.88 L257.20,367.89 L257.24,366.91 L257.27,365.95 L257.30,365.00 L257.33,364.06 L257.36,363.12 L257.39,362.19 L257.42,361.25 L257.46,360.31 L257.49,359.38 L257.52,358.44 L257.55,357.50 L257.58,356.56 L257.61,355.62 L257.64,354.69 L257.67,353.75 L257.71,352.81 L257.74,351.88 L257.77,350.94 L257.80,350.00 L257.83,349.07 L257.86,348.14 L257.89,347.21 L257.92,346.29 L257.96,345.37 L257.99,344.45 L258.02,343.53 L258.05,342.61 L258.08,341.69 L258.11,340.75 L258.14,339.82 L258.17,338.87 L258.20,337.92 L258.24,336.96 L258.27,335.99 L258.30,335.00 L258.33,334.10 L258.36,333.19 L258.39,332.28 L258.42,331.35 L258.45,330.42 L258.48,329.48 L258.52,328.53 L258.55,327.58 L258.58,326.63 L258.61,325.67 L258.64,324.71 L258.67,323.74 L258.70,322.77 L258.73,321.80 L258.76,320.83 L258.79,319.86 L258.82,318.90 L258.85,317.93 L258.87,316.96 L258.90,316.00 L258.92,315.01 L258.95,314.02 L258.97,313.01 L258.99,312.00 L259.00,310.99 L259.02,309.97 L259.04,308.95 L259.05,307.93 L259.07,306.91 L259.09,305.89 L259.10,304.88 L259.12,303.87 L259.14,302.87 L259.15,301.87 L259.17,300.88 L259.20,299.90 L259.22,298.93 L259.24,297.97 L259.27,297.03 L259.30,296.10 L259.34,295.04 L259.37,294.00 L259.41,292.96 L259.46,291.92 L259.50,290.90 L259.54,289.89 L259.59,288.89 L259.64,287.90 L259.68,286.92 L259.73,285.95 L259.78,284.99 L259.84,284.05 L259.89,283.12 L259.94,282.20 L260.00,281.30 L260.07,280.28 L260.14,279.24 L260.21,278.21 L260.29,277.19 L260.37,276.18 L260.45,275.20 L260.52,274.27 L260.60,273.38 L260.67,272.55 L260.74,271.78 L260.80,271.10 L260.90,269.81 L261.00,268.71 L261.10,268.25 L261.18,268.48 L261.26,269.11 L261.34,270.03 L261.43,271.12 L261.51,272.28 L261.60,273.40 L261.66,274.17 L261.72,275.00 L261.79,275.89 L261.85,276.81 L261.91,277.78 L261.98,278.77 L262.04,279.79 L262.11,280.83 L262.17,281.88 L262.24,282.93 L262.31,283.97 L262.37,285.00 L262.44,286.01 L262.50,287.00 L262.56,287.98 L262.62,288.97 L262.68,289.98 L262.74,290.99 L262.80,292.01 L262.86,293.02 L262.92,294.03 L262.98,295.02 L263.05,296.01 L263.11,296.98 L263.18,297.92 L263.25,298.85 L263.32,299.74 L263.40,300.60 L263.50,301.67 L263.59,302.83 L263.69,304.01 L263.79,305.17 L263.90,306.25 L264.01,307.19 L264.13,307.93 L264.26,308.42 L264.40,308.60 L264.58,308.35 L264.78,307.66 L264.99,306.64 L265.21,305.43 L265.44,304.14 L265.67,302.89 L265.90,301.80 L266.10,300.92 L266.30,299.99 L266.49,299.04 L266.70,298.10 L266.91,297.20 L267.12,296.36 L267.36,295.62 L267.60,295.00 L267.95,294.28 L268.33,293.72 L268.80,293.30 L269.45,293.06 L270.21,292.97 L271.00,292.87 L271.72,292.71 L272.48,292.53 L273.25,292.34 L274.01,292.16 L274.77,291.98 L275.52,291.81 L276.27,291.63 L277.03,291.45 L277.78,291.27 L278.53,291.09 L279.29,290.92 L280.04,290.74 L280.79,290.56 L281.55,290.38 L282.30,290.20 L283.05,290.02 L283.81,289.84 L284.56,289.66 L285.31,289.48 L286.07,289.30 L286.82,289.12 L287.58,288.94 L288.33,288.76 L289.08,288.58 L289.84,288.40 L290.59,288.22 L291.34,288.03 L292.10,287.85 L292.85,287.67 L293.60,287.49 L294.36,287.31 L295.11,287.12 L295.86,286.94 L296.62,286.76 L297.37,286.57 L298.12,286.39 L298.88,286.21 L299.63,286.02 L300.38,285.84 L301.14,285.66 L301.89,285.47 L302.64,285.29 L303.40,285.10 L304.15,284.92 L304.90,284.73 L305.66,284.55 L306.41,284.36 L307.16,284.18 L307.92,283.99 L308.67,283.80 L309.42,283.62 L310.18,283.43 L310.93,283.25 L311.68,283.06 L312.44,282.87 L313.19,282.68 L313.94,282.50 L314.70,282.31 L315.45,282.12 L316.20,281.93 L316.96,281.74 L317.71,281.56 L318.46,281.37 L319.22,281.18 L319.97,280.99 L320.73,280.80 L321.48,280.61 L322.23,280.42 L322.99,280.23 L323.74,280.04 L324.49,279.85 L325.25,279.66 L326.00,279.47 L326.75,279.28 L327.51,279.09 L328.26,278.90 L329.01,278.71 L329.77,278.52 L330.52,278.32 L331.27,278.13 L332.03,277.94 L332.78,277.75 L333.53,277.56 L334.29,277.36 L335.04,277.17 L335.79,276.98 L336.55,276.78 L337.30,276.59 L338.05,276.40 L338.81,276.20 L339.56,276.01 L340.31,275.81 L341.07,275.62 L341.82,275.42 L342.57,275.23 L343.33,275.03 L344.08,274.84 L344.83,274.64 L345.59,274.45 L346.34,274.25 L347.09,274.06 L347.85,273.86 L348.60,273.66 L349.35,273.47 L350.11,273.27 L350.86,273.07 L351.61,272.88 L352.37,272.68 L353.12,272.48 L353.88,272.28 L354.63,272.09 L355.38,271.89 L356.14,271.69 L356.89,271.49 L357.64,271.29 L358.40,271.09 L359.15,270.89 L359.90,270.69 L360.66,270.49 L361.41,270.29 L362.16,270.09 L362.92,269.89 L363.67,269.69 L364.42,269.49 L365.18,269.29 L365.93,269.09 L366.68,268.89 L367.44,268.69 L368.19,268.49 L368.94,268.29 L369.70,268.08 L370.45,267.88 L371.20,267.68 L371.96,267.48 L372.71,267.27 L373.46,267.07 L374.22,266.87 L374.97,266.67 L375.72,266.46 L376.48,266.26 L377.23,266.05 L377.98,265.85 L378.74,265.65 L379.49,265.44 L380.24,265.24 L381.00,265.03 L381.75,264.83 L382.50,264.62 L383.26,264.42 L384.01,264.21 L384.76,264.01 L385.52,263.80 L386.27,263.59 L387.03,263.39 L387.78,263.18 L388.53,262.97 L389.29,262.77 L390.04,262.56 L390.79,262.35 L391.55,262.14 L392.30,261.94 L393.05,261.73 L393.81,261.52 L394.56,261.31 L395.31,261.10 L396.07,260.89 L396.82,260.69 L397.57,260.48 L398.33,260.27 L399.08,260.06 L399.83,259.85 L400.59,259.64 L401.34,259.43 L402.09,259.22 L402.85,259.01 L403.60,258.80" stroke="#000" stroke-width="1.25" fill="none" stroke-linejoin="round"/>
<path d="M72.70,408.35 L73.70,408.35 L74.71,408.35 L75.72,408.35 L76.74,408.35 L77.76,408.35 L78.79,408.35 L79.83,408.35 L80.87,408.35 L81.92,408.35 L82.97,408.35 L84.03,408.35 L85.09,408.35 L86.16,408.35 L87.24,408.35 L88.32,408.35 L89.40,408.35 L90.49,408.35 L91.59,408.35 L92.68,408.35 L93.79,408.36 L94.90,408.36 L96.01,408.36 L97.12,408.36 L98.24,408.36 L99.37,408.36 L100.49,408.36 L101.63,408.36 L102.76,408.36 L103.90,408.36 L105.04,408.36 L106.19,408.36 L107.33,408.36 L108.48,408.36 L109.64,408.36 L110.80,408.36 L111.96,408.36 L113.12,408.37 L114.28,408.37 L115.45,408.37 L116.62,408.37 L117.79,408.37 L118.96,408.37 L120.14,408.37 L121.32,408.37 L122.49,408.37 L123.67,408.37 L124.86,408.37 L126.04,408.37 L127.22,408.38 L128.41,408.38 L129.60,408.38 L130.78,408.38 L131.97,408.38 L133.16,408.38 L134.35,408.38 L135.54,408.38 L136.73,408.38 L137.92,408.38 L139.11,408.38 L140.30,408.38 L141.50,408.39 L142.69,408.39 L143.88,408.39 L145.07,408.39 L146.26,408.39 L147.45,408.39 L148.63,408.39 L149.82,408.39 L151.01,408.39 L152.19,408.39 L153.38,408.39 L154.56,408.39 L155.74,408.40 L156.92,408.40 L158.10,408.40 L159.28,408.40 L160.45,408.40 L161.62,408.40 L162.79,408.40 L163.96,408.40 L165.13,408.40 L166.29,408.40 L167.45,408.40 L168.61,408.40 L169.77,408.40 L170.92,408.41 L172.07,408.41 L173.22,408.41 L174.36,408.41 L175.50,408.41 L176.64,408.41 L177.77,408.41 L178.90,408.41 L180.03,408.41 L181.15,408.41 L182.27,408.41 L183.39,408.41 L184.50,408.41 L185.60,408.41 L186.70,408.41 L187.80,408.41 L188.89,408.41 L189.98,408.41 L191.06,408.41 L192.14,408.42 L193.21,408.42 L194.28,408.42 L195.35,408.42 L196.40,408.42 L197.45,408.42 L198.50,408.42 L199.54,408.42 L200.57,408.42 L201.60,408.42 L202.63,408.42 L203.64,408.42 L204.65,408.42 L205.66,408.42 L206.65,408.42 L207.64,408.42 L208.63,408.42 L209.60,408.42 L210.57,408.42 L211.54,408.42 L212.49,408.42 L213.44,408.42 L214.38,408.42 L215.32,408.42 L216.24,408.42 L217.16,408.42 L218.07,408.42 L218.97,408.42 L219.87,408.41 L220.76,408.41 L221.63,408.41 L222.50,408.41 L223.36,408.41 L224.22,408.41 L225.06,408.41 L225.90,408.41 L226.72,408.41 L227.54,408.41 L228.35,408.41 L229.15,408.41 L229.94,408.41 L230.72,408.41 L231.49,408.40 L232.25,408.40 L233.00,408.40 L233.74,408.40 L234.47,408.40 L235.19,408.40 L235.90,408.40 L236.60,408.40 L237.29,408.39 L237.97,408.39 L238.64,408.39 L239.29,408.39 L239.94,408.39 L240.58,408.39 L241.20,408.39 L241.81,408.38 L242.41,408.38 L243.01,408.38 L243.58,408.38 L244.15,408.38 L244.71,408.37 L245.25,408.37 L245.78,408.37 L246.30,408.37 L246.81,408.37 L247.30,408.36 L247.78,408.36 L248.25,408.36 L248.71,408.36 L249.15,408.36 L249.58,408.35 L250.00,408.35 L251.39,408.34 L252.62,408.33 L253.74,408.32 L254.74,408.32 L255.65,408.31 L256.50,408.30 L257.29,408.29 L258.04,408.28 L258.79,408.27 L259.54,408.25 L260.31,408.24 L261.12,408.22 L262.00,408.20 L262.97,408.18 L263.96,408.16 L264.95,408.14 L265.94,408.11 L266.93,408.09 L267.91,408.06 L268.89,408.03 L269.85,408.00 L270.79,407.96 L271.72,407.91 L272.62,407.86 L273.50,407.80 L274.55,407.72 L275.58,407.64 L276.59,407.56 L277.57,407.46 L278.53,407.36 L279.45,407.23 L280.34,407.08 L281.20,406.90 L282.09,406.68 L282.93,406.45 L283.74,406.20 L284.52,405.91 L285.27,405.58 L286.00,405.20 L286.85,404.70 L287.68,404.14 L288.46,403.52 L289.18,402.84 L289.80,402.10 L290.24,401.40 L290.62,400.64 L290.93,399.84 L291.21,399.01 L291.46,398.15 L291.70,397.30 L291.93,396.37 L292.12,395.42 L292.28,394.44 L292.42,393.46 L292.56,392.47 L292.70,391.50 L292.85,390.55 L293.00,389.60 L293.14,388.65 L293.27,387.70 L293.39,386.75 L293.50,385.80 L293.59,384.87 L293.66,383.97 L293.72,383.07 L293.78,382.13 L293.84,381.12 L293.90,380.00 L293.94,379.21 L293.99,378.38 L294.03,377.49 L294.08,376.57 L294.13,375.61 L294.17,374.62 L294.22,373.60 L294.27,372.56 L294.31,371.51 L294.36,370.46 L294.41,369.39 L294.46,368.33 L294.50,367.27 L294.55,366.23 L294.60,365.20 L294.65,364.24 L294.69,363.26 L294.74,362.27 L294.79,361.28 L294.84,360.28 L294.88,359.27 L294.93,358.26 L294.98,357.25 L295.03,356.24 L295.08,355.24 L295.13,354.23 L295.17,353.23 L295.22,352.24 L295.27,351.26 L295.31,350.30 L295.36,349.34 L295.40,348.40 L295.45,347.40 L295.49,346.42 L295.53,345.45 L295.58,344.49 L295.62,343.55 L295.66,342.61 L295.70,341.67 L295.74,340.74 L295.78,339.80 L295.82,338.86 L295.86,337.92 L295.91,336.96 L295.95,335.99 L296.00,335.00 L296.05,334.04 L296.09,333.05 L296.14,332.03 L296.20,331.00 L296.25,329.96 L296.30,328.91 L296.35,327.86 L296.41,326.81 L296.46,325.77 L296.51,324.75 L296.56,323.74 L296.61,322.76 L296.66,321.81 L296.71,320.90 L296.76,320.03 L296.80,319.20 L296.86,318.14 L296.91,317.14 L296.96,316.20 L297.01,315.30 L297.05,314.42 L297.10,313.55 L297.15,312.68 L297.20,311.80 L297.26,310.85 L297.32,309.92 L297.38,309.00 L297.44,308.09 L297.49,307.17 L297.55,306.24 L297.60,305.30 L297.64,304.41 L297.68,303.51 L297.71,302.59 L297.75,301.67 L297.78,300.75 L297.82,299.85 L297.86,298.96 L297.90,298.10 L297.96,297.10 L298.03,296.12 L298.10,295.16 L298.17,294.22 L298.24,293.30 L298.30,292.40 L298.35,291.46 L298.39,290.50 L298.44,289.58 L298.50,288.77 L298.60,288.10 L298.78,287.36 L299.00,287.00 L299.24,287.30 L299.53,288.04 L299.83,288.99 L300.10,289.90 L300.34,290.74 L300.58,291.65 L300.80,292.59 L301.01,293.54 L301.20,294.50 L301.33,295.35 L301.44,296.23 L301.53,297.13 L301.62,298.00 L301.74,298.84 L301.90,299.60 L302.13,300.41 L302.38,301.16 L302.67,301.86 L303.00,302.50 L303.45,303.30 L303.95,304.02 L304.40,304.30 L304.72,303.92 L304.97,303.07 L305.22,302.01 L305.50,301.00 L305.77,300.22 L306.05,299.38 L306.34,298.52 L306.65,297.65 L306.97,296.81 L307.30,296.00 L307.67,295.13 L308.03,294.27 L308.42,293.44 L308.87,292.67 L309.40,292.00 L310.02,291.44 L310.73,290.96 L311.49,290.54 L312.26,290.19 L313.00,289.90 L313.76,289.69 L314.50,289.58 L315.25,289.51 L316.00,289.40 L316.76,289.24 L317.51,289.06 L318.27,288.88 L319.02,288.71 L319.78,288.53 L320.53,288.36 L321.29,288.18 L322.04,288.01 L322.80,287.83 L323.55,287.66 L324.31,287.48 L325.06,287.30 L325.82,287.13 L326.57,286.95 L327.33,286.77 L328.08,286.59 L328.84,286.41 L329.59,286.23 L330.35,286.05 L331.10,285.87 L331.86,285.69 L332.61,285.51 L333.37,285.33 L334.12,285.14 L334.88,284.96 L335.63,284.78 L336.39,284.59 L337.14,284.41 L337.90,284.22 L338.66,284.04 L339.41,283.85 L340.17,283.66 L340.92,283.48 L341.68,283.29 L342.43,283.10 L343.19,282.91 L343.94,282.72 L344.70,282.54 L345.45,282.35 L346.21,282.16 L346.96,281.96 L347.72,281.77 L348.47,281.58 L349.23,281.39 L349.98,281.20 L350.74,281.00 L351.49,280.81 L352.25,280.62 L353.00,280.42 L353.76,280.23 L354.51,280.03 L355.27,279.84 L356.02,279.64 L356.78,279.44 L357.53,279.24 L358.29,279.05 L359.04,278.85 L359.80,278.65 L360.56,278.45 L361.31,278.25 L362.07,278.05 L362.82,277.85 L363.58,277.65 L364.33,277.45 L365.09,277.24 L365.84,277.04 L366.60,276.84 L367.35,276.64 L368.11,276.43 L368.86,276.23 L369.62,276.02 L370.37,275.82 L371.13,275.61 L371.88,275.40 L372.64,275.20 L373.39,274.99 L374.15,274.78 L374.90,274.57 L375.66,274.36 L376.41,274.16 L377.17,273.95 L377.92,273.74 L378.68,273.53 L379.43,273.31 L380.19,273.10 L380.94,272.89 L381.70,272.68 L382.46,272.46 L383.21,272.25 L383.97,272.04 L384.72,271.82 L385.48,271.61 L386.23,271.39 L386.99,271.18 L387.74,270.96 L388.50,270.74 L389.25,270.53 L390.01,270.31 L390.76,270.09 L391.52,269.87 L392.27,269.65 L393.03,269.43 L393.78,269.21 L394.54,268.99 L395.29,268.77 L396.05,268.55 L396.80,268.33 L397.56,268.10 L398.31,267.88 L399.07,267.66 L399.82,267.43 L400.58,267.21 L401.33,266.98 L402.09,266.76 L402.84,266.53 L403.60,266.31" stroke="#000" stroke-width="1.5" fill="none" stroke-linejoin="round" stroke-dasharray="2.1 2.1"/>
<path d="M72.70,407.70 L73.70,407.70 L74.71,407.70 L75.73,407.70 L76.76,407.70 L77.80,407.70 L78.86,407.70 L79.92,407.70 L80.99,407.70 L82.07,407.70 L83.16,407.70 L84.25,407.70 L85.36,407.71 L86.47,407.71 L87.59,407.71 L88.71,407.71 L89.84,407.71 L90.98,407.72 L92.12,407.72 L93.27,407.72 L94.43,407.73 L95.58,407.73 L96.75,407.73 L97.91,407.74 L99.08,407.74 L100.25,407.74 L101.43,407.75 L102.61,407.75 L103.79,407.75 L104.97,407.76 L106.15,407.76 L107.34,407.76 L108.52,407.77 L109.71,407.77 L110.89,407.78 L112.07,407.78 L113.26,407.78 L114.44,407.79 L115.62,407.79 L116.80,407.79 L117.97,407.80 L119.15,407.80 L120.32,407.80 L121.49,407.81 L122.65,407.81 L123.81,407.81 L124.96,407.82 L126.11,407.82 L127.26,407.82 L128.40,407.83 L129.53,407.83 L130.66,407.83 L131.78,407.83 L132.89,407.83 L134.00,407.84 L135.10,407.84 L136.19,407.84 L137.27,407.84 L138.35,407.84 L139.41,407.84 L140.47,407.84 L141.51,407.84 L142.55,407.84 L143.57,407.84 L144.59,407.84 L145.59,407.84 L146.58,407.84 L147.56,407.84 L148.53,407.84 L149.48,407.84 L150.42,407.83 L151.35,407.83 L152.26,407.83 L153.16,407.82 L154.05,407.82 L154.92,407.82 L155.77,407.81 L156.61,407.81 L157.43,407.80 L158.24,407.80 L159.03,407.79 L159.80,407.78 L160.56,407.78 L161.30,407.77 L162.02,407.76 L162.72,407.75 L163.40,407.74 L164.07,407.74 L164.71,407.73 L165.34,407.72 L165.94,407.70 L166.52,407.69 L167.09,407.68 L167.63,407.67 L168.15,407.66 L168.64,407.64 L169.12,407.63 L169.57,407.62 L170.00,407.60 L171.42,407.55 L172.59,407.50 L173.57,407.45 L174.44,407.39 L175.24,407.32 L176.04,407.22 L176.90,407.10 L177.82,406.97 L178.73,406.83 L179.61,406.68 L180.47,406.49 L181.30,406.24 L182.10,405.90 L182.90,405.48 L183.68,405.01 L184.44,404.47 L185.15,403.86 L185.81,403.18 L186.40,402.40 L186.83,401.65 L187.20,400.82 L187.51,399.91 L187.79,398.94 L188.04,397.94 L188.27,396.90 L188.50,395.86 L188.74,394.82 L189.00,393.80 L189.25,392.90 L189.49,392.00 L189.74,391.10 L189.98,390.19 L190.23,389.27 L190.46,388.33 L190.70,387.39 L190.93,386.42 L191.16,385.44 L191.38,384.43 L191.60,383.40 L191.78,382.52 L191.95,381.60 L192.12,380.66 L192.29,379.70 L192.45,378.73 L192.61,377.73 L192.77,376.73 L192.92,375.73 L193.08,374.72 L193.23,373.71 L193.38,372.71 L193.53,371.71 L193.67,370.73 L193.82,369.77 L193.96,368.82 L194.10,367.90 L194.25,366.93 L194.40,365.97 L194.54,365.03 L194.68,364.10 L194.82,363.18 L194.96,362.26 L195.10,361.36 L195.23,360.45 L195.37,359.55 L195.50,358.64 L195.63,357.73 L195.77,356.82 L195.90,355.90 L196.03,354.97 L196.16,354.03 L196.29,353.09 L196.42,352.15 L196.55,351.21 L196.68,350.27 L196.81,349.32 L196.93,348.39 L197.06,347.46 L197.19,346.53 L197.33,345.61 L197.46,344.70 L197.60,343.80 L197.76,342.82 L197.92,341.86 L198.08,340.91 L198.25,339.96 L198.42,339.02 L198.59,338.09 L198.76,337.16 L198.93,336.22 L199.09,335.29 L199.25,334.35 L199.40,333.40 L199.54,332.43 L199.68,331.45 L199.81,330.45 L199.93,329.45 L200.05,328.45 L200.17,327.45 L200.30,326.47 L200.43,325.51 L200.57,324.57 L200.73,323.67 L200.90,322.80 L201.14,321.74 L201.40,320.72 L201.68,319.73 L201.97,318.78 L202.25,317.86 L202.53,316.96 L202.80,316.10 L203.07,315.16 L203.32,314.24 L203.57,313.38 L203.86,312.56 L204.20,311.80 L204.63,311.05 L205.11,310.36 L205.64,309.74 L206.20,309.20 L206.96,308.67 L207.77,308.25 L208.60,307.90 L209.38,307.63 L210.17,307.42 L211.00,307.21 L211.72,307.04 L212.48,306.88 L213.24,306.72 L214.00,306.56 L214.75,306.40 L215.50,306.23 L216.25,306.07 L217.00,305.91 L217.75,305.74 L218.50,305.57 L219.25,305.41 L220.00,305.24 L220.75,305.08 L221.50,304.91 L222.25,304.74 L223.00,304.57 L223.75,304.41 L224.50,304.24 L225.25,304.07 L226.00,303.90 L226.75,303.73 L227.50,303.56 L228.25,303.39 L229.00,303.22 L229.75,303.05 L230.50,302.88 L231.25,302.71 L232.00,302.53 L232.75,302.36 L233.50,302.19 L234.25,302.02 L235.00,301.84 L235.75,301.67 L236.50,301.49 L237.25,301.32 L238.00,301.15 L238.75,300.97 L239.50,300.79 L240.25,300.62 L241.00,300.44 L241.75,300.27 L242.50,300.09 L243.25,299.91 L244.00,299.73 L244.75,299.56 L245.50,299.38 L246.25,299.20 L247.00,299.02 L247.75,298.84 L248.50,298.66 L249.25,298.48 L250.00,298.30 L250.75,298.12 L251.50,297.94 L252.25,297.76 L253.00,297.58 L253.75,297.39 L254.50,297.21 L255.25,297.03 L256.00,296.85 L256.75,296.66 L257.50,296.48 L258.25,296.29 L259.00,296.11 L259.75,295.93 L260.49,295.76 L261.24,295.57 L262.00,295.37 L262.87,295.12 L263.75,294.86 L264.64,294.56 L265.50,294.20 L266.36,293.72 L267.20,293.15 L268.01,292.60 L268.80,292.20 L269.54,291.99 L270.25,291.89 L271.00,291.77 L271.72,291.61 L272.48,291.43 L273.25,291.24 L274.01,291.06 L274.77,290.88 L275.52,290.71 L276.27,290.53 L277.03,290.35 L277.78,290.17 L278.53,289.99 L279.29,289.82 L280.04,289.64 L280.79,289.46 L281.55,289.28 L282.30,289.10 L283.05,288.92 L283.81,288.74 L284.56,288.56 L285.31,288.38 L286.07,288.20 L286.82,288.02 L287.58,287.84 L288.33,287.66 L289.08,287.48 L289.84,287.30 L290.59,287.12 L291.34,286.93 L292.10,286.75 L292.85,286.57 L293.60,286.39 L294.36,286.21 L295.11,286.02 L295.86,285.84 L296.62,285.66 L297.37,285.47 L298.12,285.29 L298.88,285.11 L299.63,284.92 L300.38,284.74 L301.14,284.56 L301.89,284.37 L302.64,284.19 L303.40,284.00 L304.15,283.82 L304.90,283.63 L305.66,283.45 L306.41,283.26 L307.16,283.08 L307.92,282.89 L308.67,282.70 L309.42,282.52 L310.18,282.33 L310.93,282.15 L311.68,281.96 L312.44,281.77 L313.19,281.58 L313.94,281.40 L314.70,281.21 L315.45,281.02 L316.20,280.83 L316.96,280.64 L317.71,280.46 L318.46,280.27 L319.22,280.08 L319.97,279.89 L320.73,279.70 L321.48,279.51 L322.23,279.32 L322.99,279.13 L323.74,278.94 L324.49,278.75 L325.25,278.56 L326.00,278.37 L326.75,278.18 L327.51,277.99 L328.26,277.80 L329.01,277.61 L329.77,277.42 L330.52,277.22 L331.27,277.03 L332.03,276.84 L332.78,276.65 L333.53,276.46 L334.29,276.26 L335.04,276.07 L335.79,275.88 L336.55,275.68 L337.30,275.49 L338.05,275.30 L338.81,275.10 L339.56,274.91 L340.31,274.71 L341.07,274.52 L341.82,274.32 L342.57,274.13 L343.33,273.93 L344.08,273.74 L344.83,273.54 L345.59,273.35 L346.34,273.15 L347.09,272.96 L347.85,272.76 L348.60,272.56 L349.35,272.37 L350.11,272.17 L350.86,271.97 L351.61,271.78 L352.37,271.58 L353.12,271.38 L353.88,271.18 L354.63,270.99 L355.38,270.79 L356.14,270.59 L356.89,270.39 L357.64,270.19 L358.40,269.99 L359.15,269.79 L359.90,269.59 L360.66,269.39 L361.41,269.19 L362.16,268.99 L362.92,268.79 L363.67,268.59 L364.42,268.39 L365.18,268.19 L365.93,267.99 L366.68,267.79 L367.44,267.59 L368.19,267.39 L368.94,267.19 L369.70,266.98 L370.45,266.78 L371.20,266.58 L371.96,266.38 L372.71,266.17 L373.46,265.97 L374.22,265.77 L374.97,265.57 L375.72,265.36 L376.48,265.16 L377.23,264.95 L377.98,264.75 L378.74,264.55 L379.49,264.34 L380.24,264.14 L381.00,263.93 L381.75,263.73 L382.50,263.52 L383.26,263.32 L384.01,263.11 L384.76,262.91 L385.52,262.70 L386.27,262.49 L387.03,262.29 L387.78,262.08 L388.53,261.87 L389.29,261.67 L390.04,261.46 L390.79,261.25 L391.55,261.04 L392.30,260.84 L393.05,260.63 L393.81,260.42 L394.56,260.21 L395.31,260.00 L396.07,259.79 L396.82,259.59 L397.57,259.38 L398.33,259.17 L399.08,258.96 L399.83,258.75 L400.59,258.54 L401.34,258.33 L402.09,258.12 L402.85,257.91 L403.60,257.70" stroke="#000" stroke-width="1.4" fill="none" stroke-linejoin="round" stroke-dasharray="5.1 3.8"/>
<g fill="#000"><rect x="72.00" y="177.00" width="7.80" height="1.10"/><rect x="72.00" y="135.00" width="7.80" height="1.10"/><rect x="72.00" y="92.00" width="7.80" height="1.10"/><rect x="72.00" y="49.00" width="7.80" height="1.10"/><rect x="72.00" y="199.00" width="4.80" height="1.10"/><rect x="72.00" y="156.00" width="4.80" height="1.10"/><rect x="72.00" y="113.00" width="4.80" height="1.10"/><rect x="72.00" y="70.00" width="4.80" height="1.10"/><rect x="72.00" y="28.00" width="4.80" height="1.10"/><rect x="72.00" y="369.00" width="7.80" height="1.10"/><rect x="72.00" y="329.00" width="7.80" height="1.10"/><rect x="72.00" y="290.00" width="7.80" height="1.10"/><rect x="72.00" y="250.00" width="7.80" height="1.10"/><rect x="72.00" y="389.00" width="4.80" height="1.10"/><rect x="72.00" y="349.00" width="4.80" height="1.10"/><rect x="72.00" y="309.00" width="4.80" height="1.10"/><rect x="72.00" y="270.00" width="4.80" height="1.10"/><rect x="72.00" y="230.00" width="4.80" height="1.10"/><rect x="138.00" y="204.60" width="1.10" height="6.60"/><rect x="138.00" y="409.00" width="1.10" height="7.00"/><rect x="204.00" y="204.60" width="1.10" height="6.60"/><rect x="204.00" y="409.00" width="1.10" height="7.00"/><rect x="271.00" y="204.60" width="1.10" height="6.60"/><rect x="271.00" y="409.00" width="1.10" height="7.00"/><rect x="337.00" y="204.60" width="1.10" height="6.60"/><rect x="337.00" y="409.00" width="1.10" height="7.00"/><rect x="105.00" y="207.90" width="1.10" height="3.30"/><rect x="105.00" y="413.00" width="1.10" height="3.00"/><rect x="171.00" y="207.90" width="1.10" height="3.30"/><rect x="171.00" y="413.00" width="1.10" height="3.00"/><rect x="238.00" y="207.90" width="1.10" height="3.30"/><rect x="238.00" y="413.00" width="1.10" height="3.00"/><rect x="304.00" y="207.90" width="1.10" height="3.30"/><rect x="304.00" y="413.00" width="1.10" height="3.00"/><rect x="370.00" y="207.90" width="1.10" height="3.30"/><rect x="370.00" y="413.00" width="1.10" height="3.00"/><rect x="72.00" y="6.00" width="332.40" height="1.30"/><rect x="72.00" y="210.70" width="332.40" height="1.30"/><rect x="72.00" y="415.60" width="332.40" height="1.40"/><rect x="72.00" y="6.00" width="1.50" height="411.00"/><rect x="403.00" y="6.00" width="1.40" height="411.00"/></g>
<rect x="199.5" y="152.5" width="199" height="104" fill="#fff" stroke="#000" stroke-width="1"/>
<g fill="#000"><rect x="219" y="173.9" width="48.00" height="1.2"/><rect x="218" y="199" width="2.60" height="2"/><rect x="222" y="199" width="23.80" height="1"/><rect x="247.2" y="199" width="6.50" height="1"/><rect x="222" y="200" width="3.30" height="1"/><rect x="226.3" y="200" width="6.90" height="1"/><rect x="234.2" y="200" width="6.90" height="1"/><rect x="242.1" y="200" width="3.70" height="1"/><rect x="247.2" y="200" width="2.80" height="1"/><rect x="251" y="200" width="2.70" height="1"/><rect x="255.1" y="199" width="2.90" height="2"/><rect x="259.1" y="199" width="2.80" height="2"/><rect x="263" y="199" width="2.90" height="2"/><rect x="218" y="230" width="6.00" height="2"/><rect x="227" y="230" width="6.00" height="2"/><rect x="235" y="230" width="6.00" height="2"/><rect x="244" y="230" width="6.00" height="2"/><rect x="253" y="230" width="5.00" height="2"/><rect x="262" y="230" width="5.00" height="2"/></g>
<text transform="translate(272.27,181.20) scale(1.0220,1)" font-size="18.00">GaN</text>
<text transform="translate(272.47,206.90) scale(0.9481,1)" font-size="18.00">Al</text>
<text transform="translate(288.57,216.67) scale(0.9989,1)" font-size="13.70">0.16</text>
<text transform="translate(316.02,206.90) scale(0.9738,1)" font-size="18.00">Ga</text>
<text transform="translate(339.96,216.67) scale(1.0067,1)" font-size="13.70">0.84</text>
<text transform="translate(366.69,206.90) scale(1.0244,1)" font-size="18.00">N</text>
<text transform="translate(272.34,236.50) scale(1.0015,1)" font-size="18.00">In</text>
<text transform="translate(287.57,247.67) scale(0.9911,1)" font-size="13.70">0.14</text>
<text transform="translate(314.81,236.50) scale(0.9867,1)" font-size="18.00">Ga</text>
<text transform="translate(339.05,247.67) scale(1.0263,1)" font-size="13.70">0.86</text>
<text transform="translate(365.83,236.50) scale(1.0642,1)" font-size="18.00">N</text>
<text transform="translate(38.93,12.67) scale(1.0184,1)" font-size="18.22" class="t">9.0</text>
<text transform="translate(39.00,55.72) scale(1.0157,1)" font-size="18.22" class="t">8.0</text>
<text transform="translate(38.95,98.67) scale(1.0176,1)" font-size="18.22" class="t">7.0</text>
<text transform="translate(38.54,141.57) scale(1.0341,1)" font-size="18.22" class="t">6.0</text>
<text transform="translate(39.16,183.87) scale(1.0089,1)" font-size="18.22" class="t">5.0</text>
<text transform="translate(38.86,256.73) scale(1.0211,1)" font-size="18.22" class="t">2.0</text>
<text transform="translate(38.88,296.37) scale(1.0078,1)" font-size="18.49" class="t">1.5</text>
<text transform="translate(38.88,336.03) scale(1.0203,1)" font-size="18.22" class="t">1.0</text>
<text transform="translate(39.08,375.68) scale(1.0146,1)" font-size="18.22" class="t">0.5</text>
<text transform="translate(38.36,414.62) scale(1.0416,1)" font-size="18.22" class="t">0.0</text>
<text transform="translate(59.86,438.82) scale(1.0132,1)" font-size="18.36" class="t">2.0</text>
<text transform="translate(126.04,438.82) scale(1.0155,1)" font-size="18.36" class="t">2.5</text>
<text transform="translate(192.46,438.82) scale(1.0038,1)" font-size="18.36" class="t">3.0</text>
<text transform="translate(258.64,438.82) scale(1.0060,1)" font-size="18.36" class="t">3.5</text>
<text transform="translate(325.10,438.82) scale(0.9924,1)" font-size="18.36" class="t">4.0</text>
<text transform="translate(391.28,438.82) scale(0.9802,1)" font-size="18.63" class="t">4.5</text>
<text transform="translate(131.62,471.30) scale(0.8801,1)" font-size="20.49" class="t">P</text>
<text transform="translate(143.42,471.30) scale(0.8822,1)" font-size="20.49" class="t">H</text>
<text transform="translate(158.45,471.30) scale(1.0793,1)" font-size="20.49" class="t">O</text>
<text transform="translate(173.99,471.30) scale(0.6731,1)" font-size="20.49" class="t">T</text>
<text transform="translate(185.36,471.30) scale(1.0722,1)" font-size="20.49" class="t">O</text>
<text transform="translate(201.57,471.30) scale(0.9696,1)" font-size="20.49" class="t">N</text>
<text transform="translate(222.51,471.30) scale(0.6482,1)" font-size="20.49" class="t">E</text>
<text transform="translate(232.97,471.30) scale(0.9696,1)" font-size="20.49" class="t">N</text>
<text transform="translate(248.30,471.30) scale(0.6572,1)" font-size="20.49" class="t">E</text>
<text transform="translate(259.88,471.30) scale(0.7232,1)" font-size="20.49" class="t">R</text>
<text transform="translate(269.67,471.30) scale(1.0987,1)" font-size="20.49" class="t">G</text>
<text transform="translate(286.63,471.30) scale(0.8145,1)" font-size="20.49" class="t">Y</text>
<text transform="translate(307.15,471.30) scale(0.5153,1)" font-size="20.49" class="t">(</text>
<text transform="translate(312.41,471.30) scale(0.9047,1)" font-size="20.49" class="t">e</text>
<text transform="translate(322.21,471.30) scale(1.0082,1)" font-size="20.49" class="t">V</text>
<text transform="translate(338.42,471.30) scale(0.6257,1)" font-size="20.49" class="t">)</text>
<text transform="translate(12.90,114.76) rotate(-90) scale(1.0744,1)" font-size="20.63" class="t">&#949;</text>
<text transform="translate(12.90,334.76) rotate(-90) scale(1.0744,1)" font-size="20.63" class="t">&#949;</text>
<path d="M26.1,99.5H14.5L16.5,103.0" stroke="#000" stroke-width="1.2" fill="none" stroke-linejoin="round"/>
<path d="M16.3,322.0C13.5,319.6 14.3,316.1 17.2,316.0C19.6,316.0 20.3,318.4 22.2,320.3L25.5,322.6V316.0" stroke="#000" stroke-width="1.25" fill="none" stroke-linejoin="round"/>
</svg>
</body></html>
